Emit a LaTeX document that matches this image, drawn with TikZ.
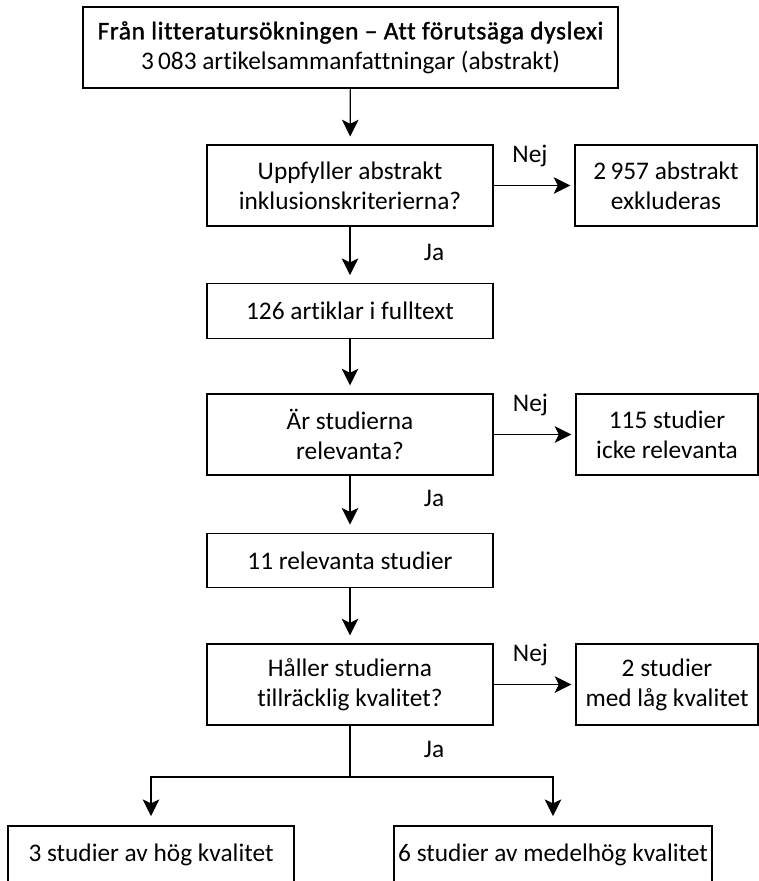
\documentclass[tikz,border=0pt]{standalone}
\usepackage{fontspec}
\setmainfont[Ligatures=NoCommon]{Carlito}
\newfontfamily\headfont[Ligatures=NoCommon, FakeBold=1.3, LetterSpace=2.5]{Carlito}
\usetikzlibrary{arrows.meta}

\tikzset{every picture/.style={line width=0.9pt}}
\tikzset{
  box/.style={draw, align=center, inner sep=0pt, minimum width=214.5pt, minimum height=60.75pt},
  stepbox/.style={box, minimum height=41pt},
  outbox/.style={box, minimum width=136.5pt},
  arr/.style={-{Stealth[length=12.5pt, width=12.5pt, inset=3pt]}},
  lbl/.style={inner sep=0pt}
}

\begin{document}
\begin{tikzpicture}[x=0.75pt,y=0.75pt,yscale=-1,xscale=1]
\fontsize{19}{22.5}\selectfont
%set diagram left start at 0, and has height of 881
\path[use as bounding box] (0,0) rectangle (759,881);

%Shape: Rectangle [start]
\node[box, minimum width=401.25pt] (start) at (350.5,47.5) {{\headfont Från litteratursökningen – Att förutsäga dyslexi}\\3\,083 artikelsammanfattningar (abstrakt)};

%Shape: Rectangle [first check]
\node[box] (chkA) at (350,185.5) {Uppfyller abstrakt\\inklusionskriterierna?};
\node[outbox] (outA) at (666,185.5) {2\,957 abstrakt\\exkluderas};

%Shape: Rectangle [full text]
\node[stepbox] (full) at (350,311) {126 artiklar i fulltext};

%Shape: Rectangle [second check]
\node[box] (chkB) at (350,434.5) {Är studierna\\relevanta?};
\node[outbox] (outB) at (667,434.5) {115 studier\\icke relevanta};

%Shape: Rectangle [relevant]
\node[stepbox] (rel) at (350,560.5) {11 relevanta studier};

%Shape: Rectangle [third check]
\node[box] (chkC) at (350,684.5) {Håller studierna\\tillräcklig kvalitet?};
\node[outbox] (outC) at (667,684.5) {2 studier\\med låg kvalitet};

%Shape: Rectangle [results]
\node[box, minimum width=214.5pt, minimum height=43.5pt] (high) at (151,855) {3 studier av hög kvalitet};
\node[box, minimum width=238.5pt, minimum height=43.5pt] (mid) at (553,855) {6 studier av medelhög kvalitet};

\coordinate (split) at (350,777);

%Straight Lines [down]
\draw[arr, shorten >=6pt] (start) -- (chkA);
\draw[arr, shorten >=6pt] (chkA) -- node[lbl, pos=0.6, anchor=base west, xshift=55pt] {Ja} (full);
\draw[arr, shorten >=6pt] (full) -- (chkB);
\draw[arr, shorten >=6pt] (chkB) -- node[lbl, pos=0.55, anchor=base west, xshift=55pt] {Ja} (rel);
\draw[arr, shorten >=6pt] (rel) -- (chkC);
\draw (chkC) -- node[lbl, pos=0.62, anchor=base west, xshift=55pt] {Ja} (split);

%Straight Lines [no]
\draw[arr, shorten >=3pt] (chkA) -- node[lbl, midway, anchor=base, yshift=17pt, xshift=-3pt] {Nej} (outA);
\draw[arr, shorten >=3pt] (chkB) -- node[lbl, midway, anchor=base, yshift=17pt, xshift=-3pt] {Nej} (outB);
\draw[arr, shorten >=3pt] (chkC) -- node[lbl, midway, anchor=base, yshift=17pt, xshift=-3pt] {Nej} (outC);

%Straight Lines [split]
\draw[arr, shorten >=7pt] (split) -| (high.north);
\draw[arr, shorten >=7pt] (split) -| (mid.north);

\end{tikzpicture}
\end{document}
